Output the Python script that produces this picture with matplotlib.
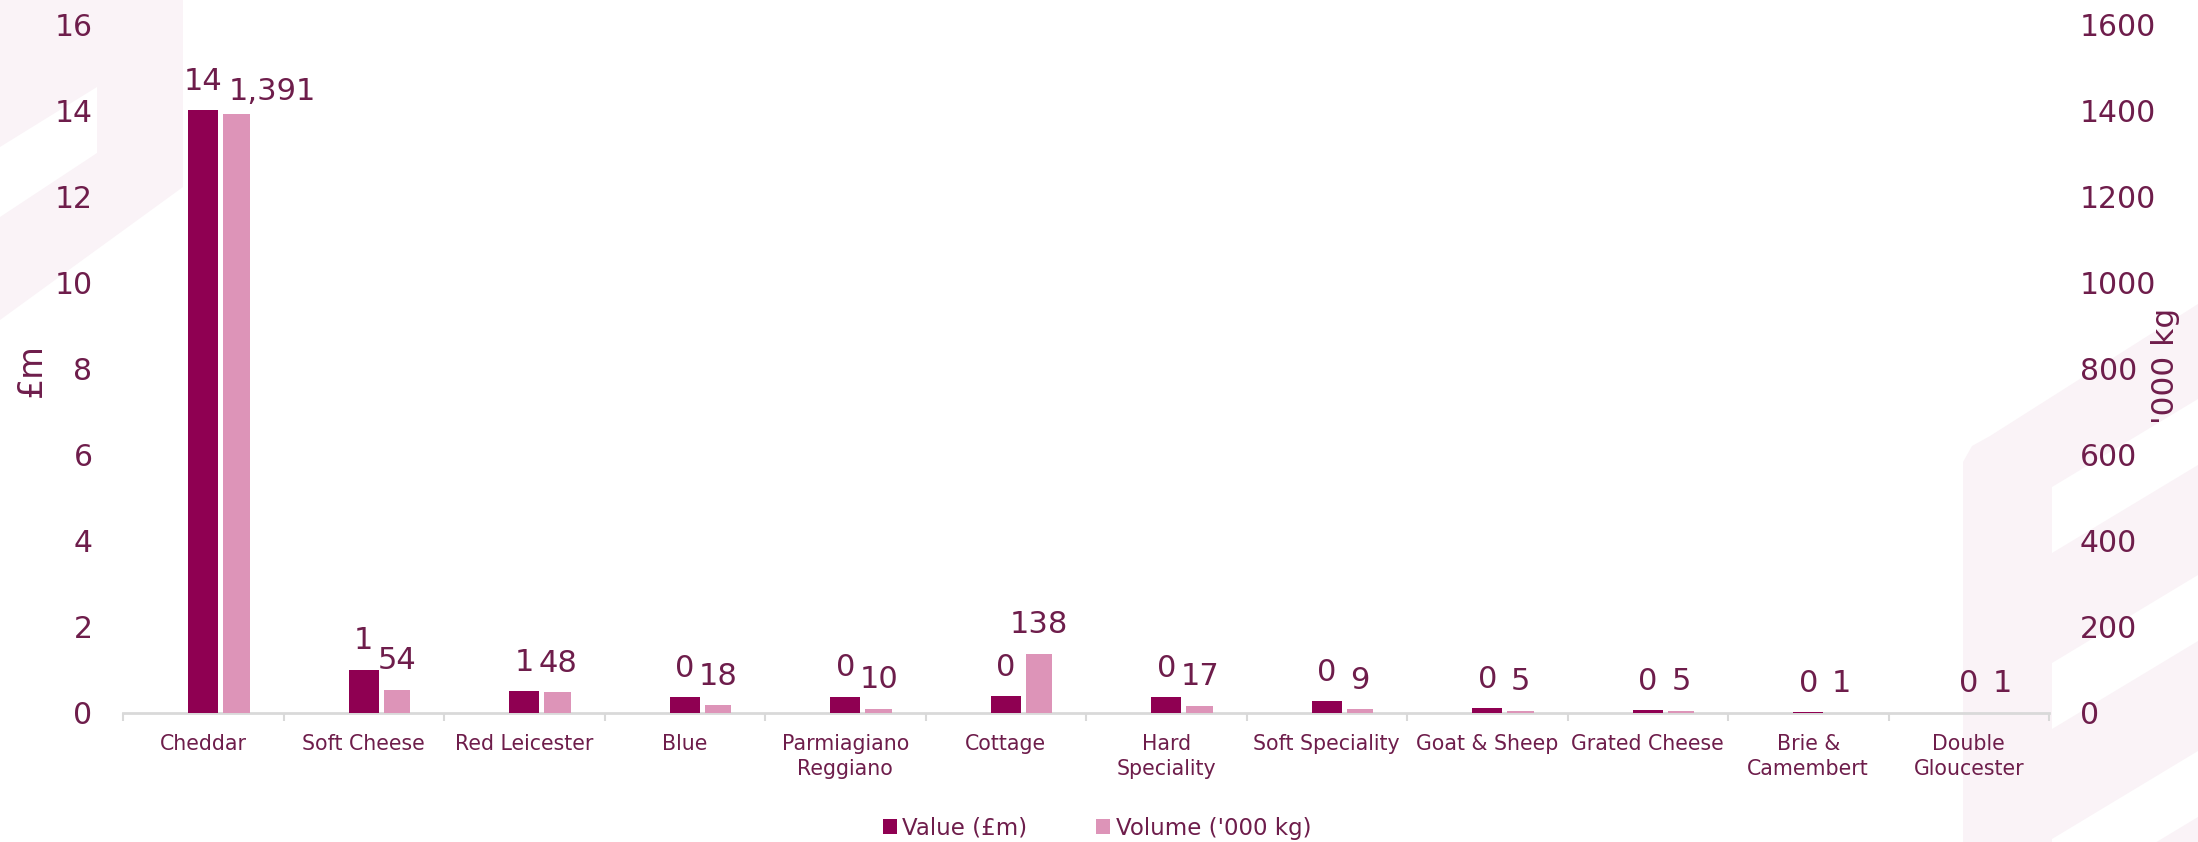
import matplotlib
matplotlib.use("Agg")
import matplotlib.pyplot as plt
from matplotlib.patches import Polygon, Patch
import numpy as np

# ---- data -----------------------------------------------------------------
categories = [
    "Cheddar", "Soft Cheese", "Red Leicester", "Blue",
    "Parmiagiano\nReggiano", "Cottage", "Hard\nSpeciality",
    "Soft Speciality", "Goat & Sheep", "Grated Cheese",
    "Brie &\nCamembert", "Double\nGloucester",
]
value_gbp_m = [14.0, 1.0, 0.5, 0.36, 0.38, 0.39, 0.36, 0.27, 0.11, 0.06, 0.02, 0.01]
volume_000kg = [1391, 54, 48, 18, 10, 138, 17, 9, 5, 5, 1, 1]
value_ticks = [0, 2, 4, 6, 8, 10, 12, 14, 16]
volume_ticks = [0, 200, 400, 600, 800, 1000, 1200, 1400, 1600]
series_names = ["Value (£m)", "Volume ('000 kg)"]

# ---- style ----------------------------------------------------------------
VALUE_COLOR = "#8F0052"
VOLUME_COLOR = "#DD94B8"
TEXT_COLOR = "#6E1D4B"
AXIS_COLOR = "#D9D9D9"
DECOR_COLOR = "#FAF3F7"

plt.rcParams["font.family"] = ["DejaVu Sans"]

W, H = 2198, 842
fig = plt.figure(figsize=(W / 100, H / 100), dpi=100)
fig.patch.set_facecolor("white")


def px(points):
    """Pixel coordinates (origin top-left) to figure fraction."""
    return [(x / W, 1 - y / H) for x, y in points]


# background brand shapes
decor = [
    [(0, 0), (183, 0), (183, 187), (0, 320)],
    [(1963, 842), (1963, 462), (1972, 446), (1990, 436), (2198, 304), (2198, 842)],
]
cutouts = [[(0, 147), (97, 87), (97, 153), (0, 217)]]
for k in range(3):
    o = 176 * k
    cutouts.append([(2052, 487 + o), (2198, 399 + o), (2198, 465 + o), (2052, 553 + o)])
for poly in decor:
    fig.patches.append(Polygon(px(poly), closed=True, transform=fig.transFigure,
                               facecolor=DECOR_COLOR, edgecolor="none", zorder=-2))
for poly in cutouts:
    fig.patches.append(Polygon(px(poly), closed=True, transform=fig.transFigure,
                               facecolor="white", edgecolor="none", zorder=-1))

# ---- axes -----------------------------------------------------------------
left, right, bottom, top = 123 / W, 2049 / W, 1 - 713 / H, 1 - 24 / H
ax = fig.add_axes([left, bottom, right - left, top - bottom])
ax.set_facecolor("none")
ax2 = ax.twinx()
ax2.set_facecolor("none")

x = np.arange(len(categories))
value_w, volume_w, volume_shift = 0.185, 0.165, 0.208

ax.bar(x, value_gbp_m, width=value_w, color=VALUE_COLOR, zorder=3)
ax2.bar(x + volume_shift, volume_000kg, width=volume_w, color=VOLUME_COLOR, zorder=3)

ax.set_xlim(-0.5, len(categories) - 0.5)
ax.set_ylim(value_ticks[0], value_ticks[-1])
ax2.set_ylim(volume_ticks[0], volume_ticks[-1])
ax.set_yticks(value_ticks)
ax2.set_yticks(volume_ticks)
ax.set_yticklabels([str(t) for t in value_ticks])
ax2.set_yticklabels([str(t) for t in volume_ticks])

for a in (ax, ax2):
    for s in ("top", "left", "right", "bottom"):
        a.spines[s].set_visible(False)
ax.spines["bottom"].set_visible(True)
ax.spines["bottom"].set_color(AXIS_COLOR)
ax.spines["bottom"].set_linewidth(2)

ax.tick_params(axis="y", length=0, pad=22, labelsize=21.5, labelcolor=TEXT_COLOR)
ax2.tick_params(axis="y", length=0, pad=22, labelsize=21.5, labelcolor=TEXT_COLOR)

# category boundaries carry the tick marks, centres carry the labels
ax.set_xticks(np.arange(-0.5, len(categories), 1.0))
ax.set_xticklabels([])
ax.tick_params(axis="x", which="major", length=6, width=1.5, color=AXIS_COLOR, direction="out")
ax.set_xticks(x, minor=True)
ax.set_xticklabels(categories, minor=True, fontsize=14.8, color=TEXT_COLOR, linespacing=1.35)
ax.tick_params(axis="x", which="minor", length=0, pad=15)

# ---- data labels ----------------------------------------------------------
label_kw = dict(textcoords="offset points", fontsize=22, color=TEXT_COLOR, va="bottom", zorder=5)
volume_nudge = {"Cheddar": 26}

for xi, v in zip(x, value_gbp_m):
    ax.annotate(f"{int(np.floor(v + 0.5)):,}", (xi, v), xytext=(0, 10.5), ha="center", **label_kw)
for xi, v, name in zip(x, volume_000kg, categories):
    dx = volume_nudge.get(name, 0)
    dy = 6 if dx else 10.5
    ax2.annotate(f"{v:,.0f}", (xi + volume_shift, v), xytext=(dx, dy), ha="center", **label_kw)

# ---- axis titles ----------------------------------------------------------
fig.text(31 / W, 1 - 370 / H, "£m", rotation=90, ha="center", va="center",
         fontsize=24, color=TEXT_COLOR)
fig.text(2165 / W, 1 - 366 / H, "'000 kg", rotation=90, ha="center", va="center",
         fontsize=22.5, color=TEXT_COLOR)

# ---- legend ---------------------------------------------------------------
handles = [Patch(facecolor=VALUE_COLOR, edgecolor="none"),
           Patch(facecolor=VOLUME_COLOR, edgecolor="none")]
leg = fig.legend(handles, series_names, loc="center", ncol=2,
                 bbox_to_anchor=(1097 / W, 1 - 828 / H), frameon=False,
                 fontsize=16.5, handlelength=0.6, handleheight=0.6,
                 handletextpad=0.25, columnspacing=3.0)
for t in leg.get_texts():
    t.set_color(TEXT_COLOR)

fig.savefig("out.png", dpi=100, facecolor="white")
